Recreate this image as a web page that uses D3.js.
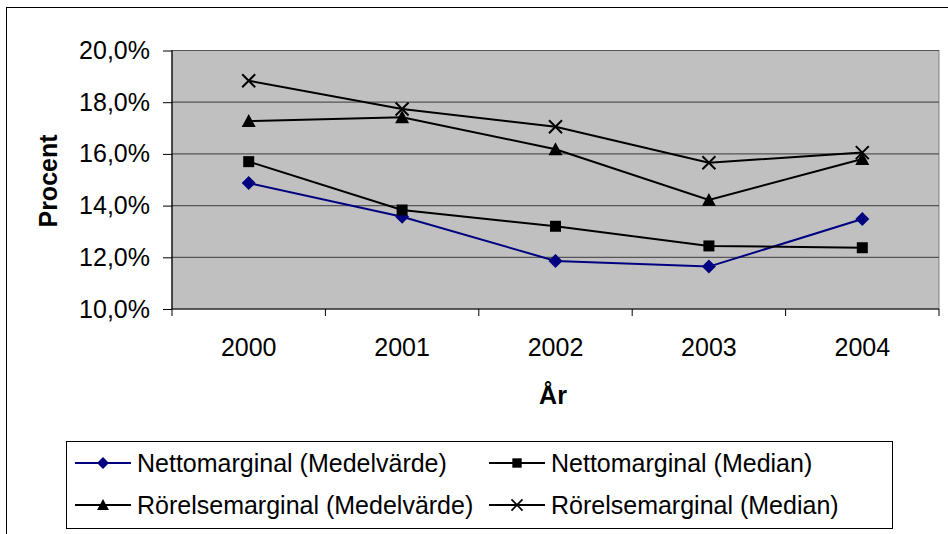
<!DOCTYPE html>
<html>
<head>
<meta charset="utf-8">
<script src="https://cdn.jsdelivr.net/npm/d3@7"></script>
<style>
	body { margin: 0; background: #fff; }
	svg { display: block; font-family: Arial, "Liberation Sans", sans-serif; }
</style>
</head>
<body>
<div id="chart"></div>
<script>
var years = ["2000", "2001", "2002", "2003", "2004"];
var yTicks = [10, 12, 14, 16, 18, 20];

var nettoMedel = [14.87, 13.57, 11.86, 11.64, 13.48];
var nettoMedian = [15.70, 13.83, 13.20, 12.44, 12.37];
var rorelseMedel = [17.27, 17.42, 16.18, 14.22, 15.80];
var rorelseMedian = [18.83, 17.74, 17.05, 15.66, 16.05];

var seriesNames = [
	"Nettomarginal (Medelvärde)",
	"Nettomarginal (Median)",
	"Rörelsemarginal (Medelvärde)",
	"Rörelsemarginal (Median)"
];

var width = 948,
	height = 534;

var FONT = 25;

var plot = { left: 172, right: 939, top: 50.5, bottom: 309 };

var series = [
	{ name: seriesNames[0], values: nettoMedel, color: "#000080", marker: "diamond" },
	{ name: seriesNames[1], values: nettoMedian, color: "#000000", marker: "square" },
	{ name: seriesNames[2], values: rorelseMedel, color: "#000000", marker: "triangle" },
	{ name: seriesNames[3], values: rorelseMedian, color: "#000000", marker: "cross" }
];

var svg = d3.select("#chart").append("svg")
	.attr("width", width)
	.attr("height", height);

// outer chart border (cut off at right and bottom)
svg.append("rect")
	.attr("x", 6.5).attr("y", 7.5)
	.attr("width", 1000).attr("height", 1000)
	.attr("fill", "#fff")
	.attr("stroke", "#000")
	.attr("stroke-width", 1);

var xScale = d3.scaleBand().domain(years).range([plot.left, plot.right]).paddingInner(0).paddingOuter(0);
var yScale = d3.scaleLinear().domain([10, 20]).range([plot.bottom, plot.top]);

// plot area
svg.append("rect")
	.attr("x", plot.left).attr("y", plot.top)
	.attr("width", plot.right - plot.left).attr("height", plot.bottom - plot.top)
	.attr("fill", "#c0c0c0")
	.attr("stroke", "#808080")
	.attr("stroke-width", 1);

// gridlines
svg.append("g").selectAll("line")
	.data(yTicks.slice(1))
	.enter().append("line")
	.attr("x1", plot.left).attr("x2", plot.right)
	.attr("y1", function(d) { return yScale(d); })
	.attr("y2", function(d) { return yScale(d); })
	.attr("stroke", "#555")
	.attr("stroke-width", 1.2);

var yAxis = d3.axisLeft(yScale)
	.tickValues(yTicks)
	.tickSize(9)
	.tickPadding(13)
	.tickFormat(function(d) { return d.toFixed(1).replace(".", ",") + "%"; });

var yg = svg.append("g")
	.attr("transform", "translate(" + plot.left + ",0)")
	.call(yAxis);
yg.select(".domain").attr("stroke", "#000").attr("stroke-width", 1.2).attr("d", "M0," + plot.top + "V" + plot.bottom);
yg.selectAll(".tick line").attr("stroke", "#000");
yg.selectAll("text").attr("font-size", FONT).attr("fill", "#000").attr("font-family", "Arial, 'Liberation Sans', sans-serif");

// x axis: ticks at category boundaries
var xg = svg.append("g").attr("transform", "translate(0," + plot.bottom + ")");
xg.append("line")
	.attr("x1", plot.left).attr("x2", plot.right)
	.attr("stroke", "#000").attr("stroke-width", 1.2);
xg.selectAll(".xtick")
	.data(years.concat(["end"]))
	.enter().append("line")
	.attr("class", "xtick")
	.attr("x1", function(d, i) { return plot.left + i * xScale.bandwidth(); })
	.attr("x2", function(d, i) { return plot.left + i * xScale.bandwidth(); })
	.attr("y1", 0).attr("y2", 7)
	.attr("stroke", "#000");
xg.selectAll(".xlabel")
	.data(years)
	.enter().append("text")
	.attr("class", "xlabel")
	.attr("x", function(d) { return xScale(d) + xScale.bandwidth() / 2; })
	.attr("y", 47)
	.attr("text-anchor", "middle")
	.attr("font-size", FONT)
	.text(function(d) { return d; });

// axis titles
svg.append("text")
	.attr("x", 553).attr("y", 404)
	.attr("text-anchor", "middle")
	.attr("font-size", FONT)
	.attr("font-weight", "bold")
	.text("År");

svg.append("text")
	.attr("transform", "translate(57,181) rotate(-90)")
	.attr("text-anchor", "middle")
	.attr("font-size", FONT)
	.attr("font-weight", "bold")
	.text("Procent");

function drawMarker(sel, type, color) {
	if (type == "diamond") {
		sel.append("path").attr("d", "M0,-7L7,0L0,7L-7,0Z").attr("fill", color);
	} else if (type == "square") {
		sel.append("rect").attr("x", -5.5).attr("y", -5.5).attr("width", 11).attr("height", 11).attr("fill", color);
	} else if (type == "triangle") {
		sel.append("path").attr("d", "M0,-7L7,6L-7,6Z").attr("fill", color);
	} else {
		sel.append("path").attr("d", "M-6.5,-6.5L6.5,6.5M-6.5,6.5L6.5,-6.5").attr("stroke", color).attr("stroke-width", 2).attr("fill", "none");
	}
}

var line = d3.line()
	.x(function(d, i) { return xScale(years[i]) + xScale.bandwidth() / 2; })
	.y(function(d) { return yScale(d); });

series.forEach(function(s) {
	svg.append("path")
		.attr("d", line(s.values))
		.attr("fill", "none")
		.attr("stroke", s.color)
		.attr("stroke-width", 2);
	s.values.forEach(function(v, i) {
		var m = svg.append("g")
			.attr("transform", "translate(" + (xScale(years[i]) + xScale.bandwidth() / 2) + "," + yScale(v) + ")");
		drawMarker(m, s.marker, s.color);
	});
});

// legend
svg.append("rect")
	.attr("x", 66.5).attr("y", 441.5)
	.attr("width", 826).attr("height", 87)
	.attr("fill", "#fff")
	.attr("stroke", "#000")
	.attr("stroke-width", 1);

var legendPos = [
	{ x: 75, y: 463 },
	{ x: 489, y: 463 },
	{ x: 75, y: 505 },
	{ x: 489, y: 505 }
];

series.forEach(function(s, i) {
	var p = legendPos[i];
	var g = svg.append("g").attr("transform", "translate(" + p.x + "," + p.y + ")");
	g.append("line").attr("x1", 0).attr("x2", 56).attr("stroke", s.color).attr("stroke-width", 2);
	var m = g.append("g").attr("transform", "translate(28,0) scale(0.85)");
	drawMarker(m, s.marker, s.color);
	g.append("text")
		.attr("x", 62).attr("y", 9)
		.attr("font-size", FONT)
		.text(s.name);
});
</script>
</body>
</html>
